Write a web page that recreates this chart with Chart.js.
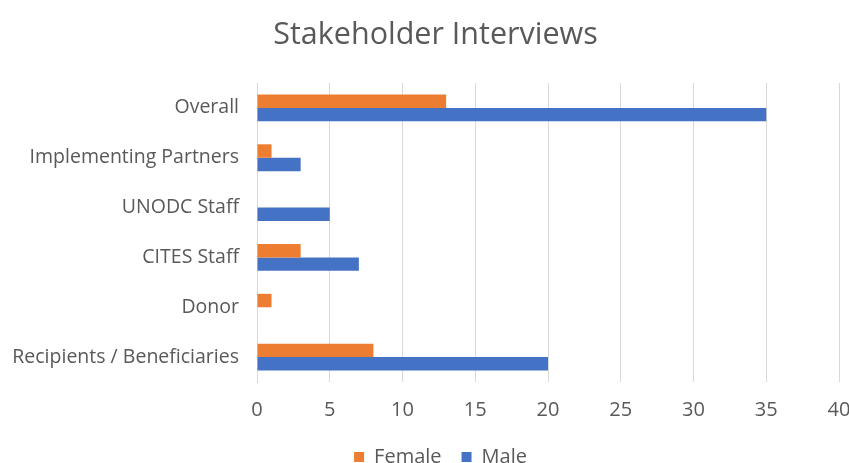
<!DOCTYPE html>
<html>
<head>
<meta charset="utf-8">
<script src="https://cdn.jsdelivr.net/npm/chart.js@4/dist/chart.umd.min.js"></script>
<style>
html,body{margin:0;padding:0;background:#fff;}
#wrap{width:849px;height:463px;}
</style>
</head>
<body>
<div id="wrap"><canvas id="c" width="849" height="463"></canvas></div>
<script>
const categories = ["Overall", "Implementing Partners", "UNODC Staff", "CITES Staff", "Donor", "Recipients / Beneficiaries"];
const female = [13, 1, 0, 3, 1, 8];
const male = [35, 3, 5, 7, 0, 20];
const seriesNames = ["Female", "Male"];
const chartTitle = "Stakeholder Interviews";

const FONT = "'Open Sans', sans-serif";
const TXT = "#595959";

// Nudge title / legend boxes after layout (chart area stays as computed)
const shiftPlugin = {
  id: 'shift',
  afterLayout(chart) {
    const t = chart.titleBlock;
    if (t) { t.left += 11; t.right += 11; t.top += 1; t.bottom += 1; }
    const l = chart.legend;
    if (l) { l.left += 16; l.right += 16; l.top += 14; l.bottom += 14; }
    const x = chart.scales.x;
    if (x) { x.bottom = x.top + 60; }
  }
};

new Chart(document.getElementById('c'), {
  type: 'bar',
  data: {
    labels: categories,
    datasets: [
      { label: seriesNames[0], data: female, backgroundColor: '#ED7D31', categoryPercentage: 0.54, barPercentage: 1.0 },
      { label: seriesNames[1], data: male, backgroundColor: '#4472C4', categoryPercentage: 0.54, barPercentage: 1.0 }
    ]
  },
  plugins: [shiftPlugin],
  options: {
    indexAxis: 'y',
    responsive: false,
    animation: false,
    layout: { padding: { left: 0, right: 0, top: 0, bottom: 0 } },
    plugins: {
      title: {
        display: true,
        text: chartTitle,
        color: TXT,
        font: { family: FONT, size: 30.5, weight: 'normal' },
        padding: { top: 16, bottom: 30.4 }
      },
      legend: {
        position: 'bottom',
        labels: {
          color: TXT,
          font: { family: FONT, size: 20 },
          boxWidth: 10, boxHeight: 10,
          padding: 20
        }
      },
      tooltip: { enabled: false }
    },
    scales: {
      x: {
        min: 0, max: 40,
        ticks: { stepSize: 5, color: TXT, font: { family: FONT, size: 20 }, padding: 16, maxRotation: 0 },
        grid: { color: '#d9d9d9', drawTicks: false },
        border: { display: false },
        afterFit: function(s) { s.height = 31; s.paddingRight = 10; s.paddingLeft = 0; }
      },
      y: {
        ticks: { color: TXT, font: { family: FONT, size: 19.5 }, padding: 18 },
        grid: { display: false, drawTicks: false },
        border: { display: true, color: '#d9d9d9' },
        afterFit: function(s) { s.width = 257; }
      }
    }
  }
});
</script>
</body>
</html>
